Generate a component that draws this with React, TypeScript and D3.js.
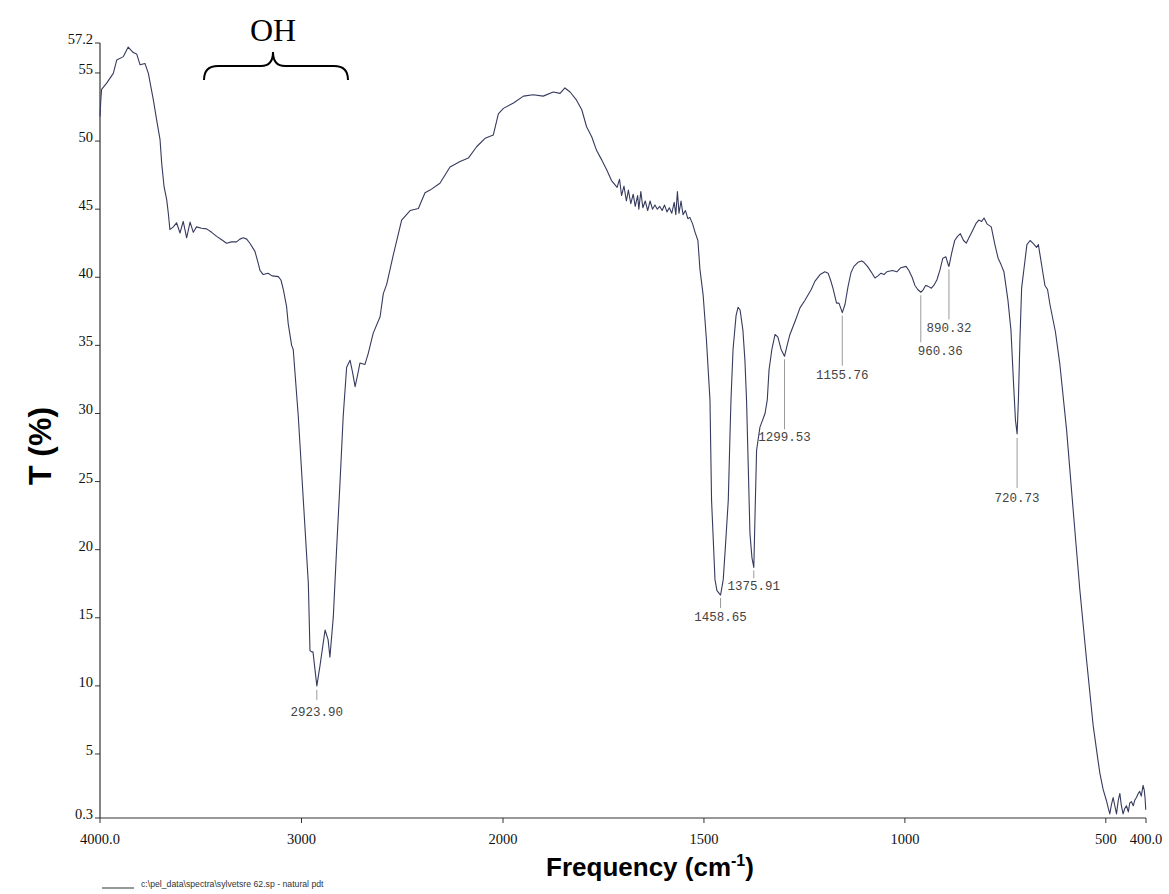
import React from "react";
import * as d3 from "d3";

// ---------- data ----------
const wavenumbers: number[] = [
  4000, 3996, 3992, 3967, 3934, 3917, 3884, 3860, 3835, 3818, 3801, 3777, 3760, 3735, 3719, 3702, 3694, 3682, 3669, 3661,
  3653, 3636, 3620, 3603, 3587, 3570, 3553, 3537, 3521, 3496, 3471, 3446, 3421, 3396, 3372, 3347, 3322, 3306, 3289, 3272,
  3256, 3231, 3216, 3206, 3190, 3166, 3146, 3115, 3102, 3090, 3074, 3066, 3049, 3041, 3016, 2991, 2966, 2958, 2950, 2943,
  2923.9, 2908, 2883, 2868, 2859, 2842, 2826, 2809, 2793, 2776, 2759, 2747, 2734, 2722, 2710, 2685, 2669, 2644, 2610, 2594,
  2577, 2545, 2503, 2461, 2420, 2387, 2362, 2313, 2263, 2213, 2172, 2130, 2089, 2048, 2023, 1999, 1974, 1949, 1925, 1900,
  1875, 1858, 1846, 1833, 1817, 1804, 1792, 1779, 1767, 1754, 1742, 1730,
  1716, 1710, 1705, 1699, 1693, 1688, 1682, 1676, 1671, 1665, 1662, 1657, 1652, 1646, 1640, 1634, 1628, 1622, 1616, 1610,
  1604, 1598, 1592, 1586, 1580, 1574, 1570, 1566, 1562, 1557, 1552, 1546, 1540, 1535, 1528, 1522, 1515, 1510, 1502, 1494,
  1485, 1481, 1472.5, 1467.6, 1458.65, 1452, 1446.4, 1439.4, 1435, 1432.7, 1427.6, 1420, 1415, 1410, 1403, 1398, 1394,
  1389.5, 1385.5, 1380.5, 1375.91, 1373, 1369, 1360.6, 1348, 1342.4, 1338, 1331, 1323, 1316, 1308, 1299.53, 1293, 1286,
  1271.5, 1261, 1249, 1233, 1224, 1211, 1199, 1191, 1185, 1179, 1170, 1164, 1155.76, 1149, 1141.6, 1134, 1126.7, 1116.8,
  1107.6, 1102, 1093, 1084, 1074.5, 1067, 1059.5, 1052, 1045, 1031, 1020, 1010, 997, 990, 982, 975, 968, 960.36, 955,
  948.6, 943, 934, 928, 920.4, 913, 905.5, 898, 891.5, 890.32, 883, 876, 869, 862, 854, 847.3, 840.6, 833, 823, 816, 809,
  803, 795, 785, 776, 768, 761, 753.5, 743.5, 736, 730, 724.8, 720.73, 717.5, 713.7, 709.5, 702.5, 696.3, 688.4, 681.5,
  672.3, 667.8, 664, 657.8, 651.5, 645, 639, 625.4, 614.3, 597.6, 581.2, 564.5, 547.9, 531.5, 519.8, 514.8, 506.7, 498.2,
  493.8, 490, 486.3, 481.8, 477.6, 473.4, 469, 465, 461.5, 457, 452.8, 448.6, 444, 440.4, 436.2, 431.7, 428, 423.8, 419.3,
  415.6, 411.8, 407.3, 404.4, 402.4, 400.6,
];

const transmittance: number[] = [
  51.8, 53.0, 53.8, 54.25, 54.97, 55.95, 56.2, 56.9, 56.5, 56.4, 55.6, 55.7, 54.97, 53.0, 51.55, 50.1, 48.4, 46.65, 45.7, 44.7,
  43.5, 43.7, 44.0, 43.25, 44.1, 42.9, 44.05, 43.3, 43.7, 43.6, 43.55, 43.3, 43.0, 42.75, 42.5, 42.6, 42.6, 42.8, 42.9, 42.8,
  42.5, 41.9, 41.1, 40.5, 40.2, 40.3, 40.1, 40.05, 39.8, 39.1, 37.85, 36.6, 35.0, 34.7, 29.8, 23.65, 17.5, 12.6, 12.5, 12.5,
  10.0, 11.5, 14.1, 13.4, 12.1, 15.1, 20.0, 24.9, 29.8, 33.4, 33.9, 33.05, 31.97, 32.8, 33.7, 33.6, 34.4, 35.9, 37.1, 38.8,
  39.5, 41.6, 44.2, 44.9, 45.05, 46.2, 46.4, 46.9, 48.1, 48.5, 48.75, 49.6, 50.2, 50.45, 52.0, 52.4, 52.8, 53.3, 53.4, 53.3,
  53.6, 53.5, 53.9, 53.6, 53.0, 52.3, 51.05, 50.3, 49.3, 48.6, 47.9, 47.1,
  46.6, 47.2, 46.0, 46.7, 45.6, 46.4, 45.4, 46.1, 45.2, 46.0, 45.0, 46.3, 45.1, 45.6, 44.9, 45.6, 45.0, 45.3, 45.0, 45.2,
  44.9, 45.3, 44.8, 45.1, 44.7, 45.5, 44.6, 46.3, 44.7, 45.6, 44.6, 44.9, 44.3, 44.4, 43.9, 43.3, 42.7, 40.6, 38.7, 35.5,
  31.0, 23.6, 17.8, 17.0, 16.67, 17.8, 20.3, 23.65, 28.6, 31.0, 34.7, 37.2, 37.8, 37.6, 36.1, 33.9, 31.0,
  25.85, 21.2, 19.4, 18.7, 22.4, 27.3, 29.0, 30.0, 31.0, 33.2, 34.7, 35.8, 35.6, 34.7, 34.2, 35.0, 35.8,
  36.9, 37.75, 38.3, 39.1, 39.7, 40.2, 40.4, 40.3, 39.8, 39.2, 38.1, 38.1, 37.4, 38.0, 39.3, 40.35, 40.8, 41.1,
  41.2, 41.1, 40.8, 40.4, 39.95, 40.1, 40.3, 40.2, 40.4, 40.5, 40.4, 40.7, 40.8, 40.5, 40.0, 39.4, 39.1, 38.9, 39.05,
  39.4, 39.35, 39.2, 39.4, 39.8, 40.5, 41.4, 41.5, 40.85, 40.8, 41.85, 42.7, 43.0, 43.2, 42.7, 42.5, 42.9, 43.35, 43.95, 44.2, 44.1,
  44.35, 43.9, 43.7, 42.4, 41.4, 40.95, 40.4, 38.3, 36.1, 32.45, 29.5, 28.5, 31.0, 35.4, 39.2, 40.9, 42.4, 42.7, 42.5,
  42.2, 42.4, 41.7, 40.55, 39.4, 39.1, 38.0, 36.0, 33.6, 28.8, 22.9, 17.0, 11.9, 7.1, 4.6, 3.6, 2.4, 1.55,
  1.0, 0.6, 1.25, 1.8, 1.2, 0.6, 1.6, 2.1, 1.25, 0.6, 1.0, 1.2, 0.75, 1.4, 1.5, 1.2, 1.6, 1.8, 2.1,
  2.25, 1.9, 2.7, 2.35, 1.8, 0.9,
];

const xTicks: number[] = [4000, 3000, 2000, 1500, 1000, 500, 400];
const xTickLabels: string[] = ["4000.0", "3000", "2000", "1500", "1000", "500", "400.0"];
const yTicks: number[] = [57.2, 55, 50, 45, 40, 35, 30, 25, 20, 15, 10, 5, 0.3];
const yTickLabels: string[] = ["57.2", "55", "50", "45", "40", "35", "30", "25", "20", "15", "10", "5", "0.3"];

const peakWn: number[] = [2923.9, 1458.65, 1375.91, 1299.53, 1155.76, 960.36, 890.32, 720.73];
const peakLabels: string[] = ["2923.90", "1458.65", "1375.91", "1299.53", "1155.76", "960.36", "890.32", "720.73"];
const peakT: number[] = [10.0, 16.67, 18.7, 34.2, 37.4, 38.9, 40.8, 28.5];

// layout for peak annotations (leader start gap, leader length, text dx, text dy from leader end)
const peakLayout = [
  { gap: 4, len: 10, dx: 0, dy: 16, anchor: "middle" },
  { gap: 3, len: 10, dx: 0, dy: 13, anchor: "middle" },
  { gap: 3, len: 8, dx: 0, dy: 12, anchor: "middle" },
  { gap: 3, len: 70, dx: 0, dy: 12, anchor: "middle" },
  { gap: 3, len: 50, dx: 0, dy: 13, anchor: "middle" },
  { gap: 3, len: 47, dx: -3, dy: 13, anchor: "start" },
  { gap: 3, len: 50, dx: 0, dy: 13, anchor: "middle" },
  { gap: 4, len: 50, dx: 0, dy: 14, anchor: "middle" },
];

export default function App() {
  const W = 1169;
  const H = 894;
  const x = d3.scaleLinear().domain([4000, 2000, 400]).range([100, 503, 1146]);
  const y = d3.scaleLinear().domain([0.3, 57.2]).range([818, 43]);

  const pts: [number, number][] = wavenumbers.map((w, i) => [w, transmittance[i]]);
  const line = d3
    .line<[number, number]>()
    .x((d) => x(d[0]))
    .y((d) => y(d[1]));

  const serif = "'Liberation Serif', 'Times New Roman', serif";
  const sans = "'Liberation Sans', Arial, sans-serif";
  const mono = "'Liberation Mono', 'Courier New', monospace";

  const braceY = 66;
  const bx0 = 204, bx1 = 348, bmid = 273;

  return (
    <svg width={W} height={H} style={{ position: "absolute", left: 0, top: 0, background: "#fff" }}>
      <rect x={0} y={0} width={W} height={H} fill="#ffffff" />
      {/* axes */}
      <line x1={x(4000)} x2={x(4000)} y1={y(57.2)} y2={y(0.3)} stroke="#333" strokeWidth={1.2} />
      <line x1={x(4000)} x2={x(400)} y1={y(0.3)} y2={y(0.3)} stroke="#333" strokeWidth={1.2} />
      {yTicks.map((t, i) => (
        <g key={"y" + i}>
          <line x1={x(4000) - 5} x2={x(4000)} y1={y(t)} y2={y(t)} stroke="#333" strokeWidth={1} />
          <text x={x(4000) - 7} y={y(t) + 1} textAnchor="end" fontFamily={serif} fontSize={14.5} fill="#111">
            {yTickLabels[i]}
          </text>
        </g>
      ))}
      {xTicks.map((t, i) => (
        <g key={"x" + i}>
          <line x1={x(t)} x2={x(t)} y1={y(0.3)} y2={y(0.3) + 5} stroke="#333" strokeWidth={1} />
          <text x={x(t)} y={y(0.3) + 26} textAnchor="middle" fontFamily={serif} fontSize={14.5} fill="#111">
            {xTickLabels[i]}
          </text>
        </g>
      ))}

      {/* spectrum */}
      <path d={line(pts) || ""} fill="none" stroke="#363b5e" strokeWidth={1.1} strokeLinejoin="round" />

      {/* peak annotations */}
      {peakWn.map((w, i) => {
        const L = peakLayout[i];
        const px = x(w);
        const y0 = y(peakT[i]) + L.gap;
        const y1 = y0 + L.len;
        return (
          <g key={"p" + i}>
            <line x1={px} x2={px} y1={y0} y2={y1} stroke="#9a9a9a" strokeWidth={1} />
            <text x={px + L.dx} y={y1 + L.dy} textAnchor={L.anchor as any} fontFamily={mono} fontSize={12.5} fill="#444">
              {peakLabels[i]}
            </text>
          </g>
        );
      })}

      {/* OH brace */}
      <text x={bmid} y={41} textAnchor="middle" fontFamily={serif} fontSize={32} fill="#000">
        OH
      </text>
      <path
        d={`M${bx0},${braceY + 14} Q${bx0},${braceY} ${bx0 + 14},${braceY} L${bmid - 12},${braceY} Q${bmid},${braceY} ${bmid},${braceY - 14} Q${bmid},${braceY} ${bmid + 12},${braceY} L${bx1 - 14},${braceY} Q${bx1},${braceY} ${bx1},${braceY + 14}`}
        fill="none"
        stroke="#000"
        strokeWidth={2}
      />

      {/* axis titles */}
      <text
        transform={`translate(51,446) rotate(-90)`}
        textAnchor="middle"
        fontFamily={sans}
        fontWeight="bold"
        fontSize={32}
        fill="#000"
      >
        T (%)
      </text>
      <text x={650} y={876} textAnchor="middle" fontFamily={sans} fontWeight="bold" fontSize={26} fill="#000">
        Frequency (cm
        <tspan dy={-10} fontSize={16}>-1</tspan>
        <tspan dy={10}>)</tspan>
      </text>

      {/* caption */}
      <line x1={102} x2={134} y1={888} y2={888} stroke="#333" strokeWidth={1} />
      <text x={141} y={887} fontFamily={sans} fontSize={8.7} fill="#333">
        c:\pel_data\spectra\sylvetsre 62.sp - natural pdt
      </text>
    </svg>
  );
}
